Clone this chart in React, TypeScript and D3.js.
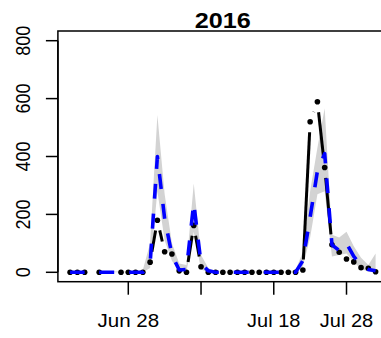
import React from "react";
import * as d3 from "d3";

const title = "2016";
const startDate = "2016-06-20";

// daily observed counts (null = missing)
const observed: (number | null)[] = [
  0, 0, 0, null, 0, null, null, 0, 0, 0, 0,
  35, 180, 71, 63, 5, 0, 162, 19,
  0, 0, 0, 0, 0, 0, 0, 0, 0, 0, 0, 0, 0,
  8, 520, 589, 362, 95, 69, 46, 36, 16, 14, 2,
];

// model fit (blue dashed)
const fitted: (number | null)[] = [
  0, 0, 0, null, 0, 0, 0, 0, 0, 0, 0,
  30, 400, 185, 60, 8, 10, 240, 30,
  5, 0, 0, 0, 0, 0, 0, 0, 0, 0, 0, 0, 0,
  40, 190, 350, 410, 95, 75, 100, 55, 25, 10, 5,
];

// interval band
const lower: (number | null)[] = [
  0, 0, 0, null, 0, 0, 0, 0, 0, 0, 0,
  15, 280, 110, 40, 2, 2, 140, 10,
  0, 0, 0, 0, 0, 0, 0, 0, 0, 0, 0, 0, 0,
  20, 120, 270, 280, 55, 60, 65, 35, 12, 2, 0,
];
const upper: (number | null)[] = [
  3, 3, 3, null, 3, 3, 3, 3, 3, 3, 8,
  100, 543, 270, 100, 30, 25, 307, 60,
  15, 3, 3, 3, 3, 3, 3, 3, 3, 3, 3, 3, 8,
  70, 280, 430, 567, 130, 120, 140, 90, 50, 25, 65,
];

const yTicks = [0, 200, 400, 600, 800];
const xTickDates = ["2016-06-28", "2016-07-08", "2016-07-18", "2016-07-28"];
const xTickLabels = ["Jun 28", "", "Jul 18", "Jul 28"];
const xLabelWidths = [61.7, 0, 53.3, 53.3];

const W = 381;
const H = 338;
const box = { left: 57.9, right: 387.7, top: 31, bottom: 281.7 };

export default function App() {
  const t0 = new Date(startDate + "T00:00:00Z");
  const dates = observed.map((_, i) => d3.utcDay.offset(t0, i));
  const x = d3
    .scaleUtc()
    .domain([dates[0], dates[dates.length - 1]])
    .range([70.1, 375.6]);
  const y = d3.scaleLinear().domain([0, 800]).range([272.3, 40.7]);

  const idx = observed.map((_, i) => i);

  const area = d3
    .area<number>()
    .defined((i) => lower[i] != null && upper[i] != null)
    .x((i) => x(dates[i]))
    .y0((i) => y(lower[i] as number))
    .y1((i) => y(upper[i] as number));

  const fitLine = d3
    .line<number>()
    .defined((i) => fitted[i] != null)
    .x((i) => x(dates[i]))
    .y((i) => y(fitted[i] as number));

  const gap = 10.5;
  const segs: { x1: number; y1: number; x2: number; y2: number }[] = [];
  for (let i = 0; i < observed.length - 1; i++) {
    const a = observed[i];
    const b = observed[i + 1];
    if (a == null || b == null) continue;
    const x1 = x(dates[i]);
    const y1 = y(a);
    const x2 = x(dates[i + 1]);
    const y2 = y(b);
    const len = Math.hypot(x2 - x1, y2 - y1);
    if (len <= 2 * gap) continue;
    const ux = (x2 - x1) / len;
    const uy = (y2 - y1) / len;
    segs.push({
      x1: x1 + ux * gap,
      y1: y1 + uy * gap,
      x2: x2 - ux * gap,
      y2: y2 - uy * gap,
    });
  }

  const font = "'Liberation Sans', Arial, Helvetica, sans-serif";

  return (
    <svg
      width={W}
      height={H}
      style={{ position: "fixed", left: 0, top: 0, background: "#fff" }}
      fontFamily={font}
    >
      <rect x={0} y={0} width={W} height={H} fill="#fff" />
      <path d={area(idx) || ""} fill="#d3d3d3" stroke="none" />
      {segs.map((s, i) => (
        <line
          key={"s" + i}
          x1={s.x1}
          y1={s.y1}
          x2={s.x2}
          y2={s.y2}
          stroke="#000"
          strokeWidth={3}
        />
      ))}
      {idx
        .filter((i) => observed[i] != null)
        .map((i) => (
          <circle
            key={"p" + i}
            cx={x(dates[i])}
            cy={y(observed[i] as number)}
            r={2.8}
            fill="#000"
          />
        ))}
      <path
        d={fitLine(idx) || ""}
        fill="none"
        stroke="#0000ff"
        strokeWidth={3.6}
        strokeDasharray="15 15"
        strokeLinecap="butt"
        strokeLinejoin="round"
      />
      <rect
        x={box.left}
        y={box.top}
        width={box.right - box.left}
        height={box.bottom - box.top}
        fill="none"
        stroke="#000"
        strokeWidth={1.5}
      />
      {/* y axis */}
      <line x1={box.left} x2={box.left} y1={y(0)} y2={y(800)} stroke="#000" strokeWidth={1.5} />
      {yTicks.map((v) => (
        <g key={"y" + v}>
          <line x1={box.left - 12} x2={box.left} y1={y(v)} y2={y(v)} stroke="#000" strokeWidth={1.5} />
          <text
            transform={`translate(30,${y(v)}) scale(1.16,1) rotate(-90)`}
            textAnchor="middle"
            fontSize={18}
            fill="#000"
          >
            {v}
          </text>
        </g>
      ))}
      {/* x axis */}
      {xTickDates.map((d, i) => {
        const xx = x(new Date(d + "T00:00:00Z"));
        return (
          <g key={"x" + d}>
            <line x1={xx} x2={xx} y1={box.bottom} y2={box.bottom + 13} stroke="#000" strokeWidth={1.5} />
            {xTickLabels[i] ? (
              <text
                x={xx}
                y={326.7}
                textAnchor="middle"
                fontSize={18.5}
                textLength={xLabelWidths[i]}
                lengthAdjust="spacingAndGlyphs"
                fill="#000"
              >
                {xTickLabels[i]}
              </text>
            ) : null}
          </g>
        );
      })}
      <text
        x={(box.left + box.right) / 2}
        y={28.3}
        textAnchor="middle"
        fontSize={21.5}
        fontWeight="bold"
        textLength={56}
        lengthAdjust="spacingAndGlyphs"
        fill="#000"
      >
        {title}
      </text>
    </svg>
  );
}
